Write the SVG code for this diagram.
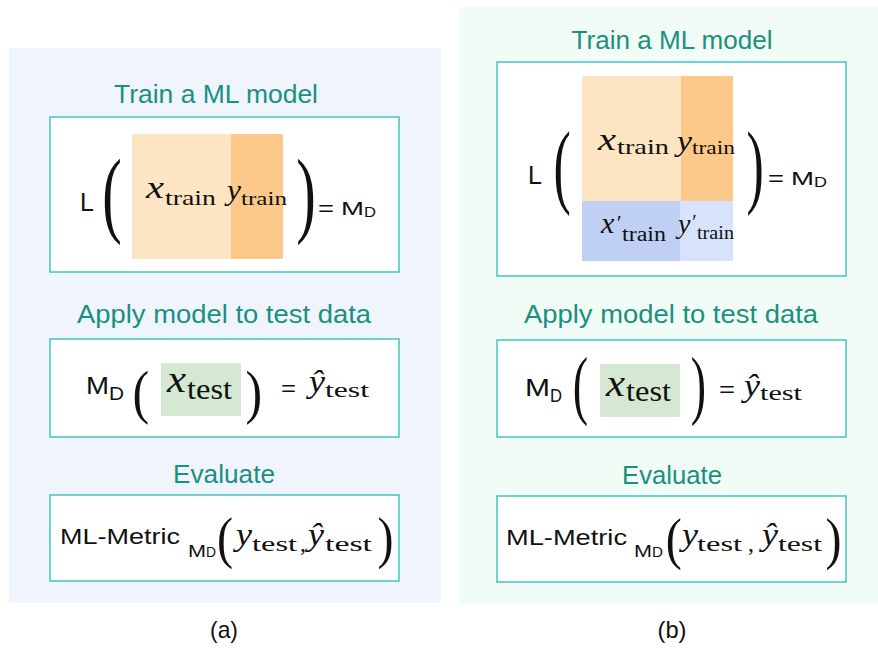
<svg xmlns="http://www.w3.org/2000/svg" width="878" height="648" viewBox="0 0 878 648">
<style>
.bgA{fill:#f0f4fd}
.bgB{fill:#f2fcf6}
.box{fill:#ffffff;stroke:#40c6bf;stroke-width:1.5}
.title{font-family:"Liberation Sans",Arial,sans-serif;font-size:26px;fill:#1a9080;text-anchor:middle}
.sans{font-family:"Liberation Sans",Arial,sans-serif;fill:#111}
.cap{font-family:"Liberation Sans",Arial,sans-serif;font-size:24px;fill:#111;text-anchor:middle}
.mi{font-family:"Liberation Serif","Times New Roman",serif;font-style:italic;fill:#111}
.mr{font-family:"Liberation Serif","Times New Roman",serif;fill:#111}
.parS{font-family:"Liberation Serif","Times New Roman",serif;fill:#111}
.o1{fill:#fde5c4}
.o2{fill:#fdc98a}
.b1{fill:#bfd0f4}
.b2{fill:#d7e3fd}
.g1{fill:#d5e8d4}
</style>

<g id="panel-a">
<rect class="bgA" x="9" y="48" width="432" height="555"/>
<text class="cap" x="224" y="638" textLength="28" lengthAdjust="spacingAndGlyphs">(a)</text>
</g>
<g id="panel-b">
<rect class="bgB" x="459" y="7" width="419" height="597"/>
<text class="cap" x="672" y="638" textLength="29" lengthAdjust="spacingAndGlyphs">(b)</text>
</g>

<g id="connectors"></g>

<!-- Panel A: Train -->
<g id="a-train">
<text class="title" x="216" y="103" textLength="204" lengthAdjust="spacingAndGlyphs">Train a ML model</text>
<rect class="box" x="50" y="117" width="349" height="155"/>
<rect class="o1" x="132" y="134" width="99" height="125"/>
<rect class="o2" x="231" y="134" width="52" height="125"/>
<text class="sans" x="80" y="211" font-size="25">L</text>
<text class="parS" font-size="58.6" transform="translate(102.2,225) scale(1,1.64)">(</text>
<text class="mi" x="146" y="198" font-size="32" textLength="18" lengthAdjust="spacingAndGlyphs">x</text>
<text class="mr" x="165" y="205" font-size="22" textLength="51" lengthAdjust="spacingAndGlyphs">train</text>
<text class="mi" x="227" y="200" font-size="30" textLength="14" lengthAdjust="spacingAndGlyphs">y</text>
<text class="mr" x="241" y="205" font-size="19" textLength="46" lengthAdjust="spacingAndGlyphs">train</text>
<text class="parS" font-size="58.6" transform="translate(296.3,225) scale(1,1.64)">)</text>
<text class="sans" x="318" y="216" font-size="22" textLength="16" lengthAdjust="spacingAndGlyphs">=</text>
<text class="sans" x="341" y="215" font-size="18" textLength="23" lengthAdjust="spacingAndGlyphs">M</text>
<text class="sans" x="364" y="217" font-size="14" textLength="12" lengthAdjust="spacingAndGlyphs">D</text>
</g>

<!-- Panel A: Apply -->
<g id="a-apply">
<text class="title" x="224" y="323" textLength="294" lengthAdjust="spacingAndGlyphs">Apply model to test data</text>
<rect class="box" x="50" y="339" width="349" height="98"/>
<text class="sans" x="86" y="394" font-size="24" textLength="23" lengthAdjust="spacingAndGlyphs">M</text>
<text class="sans" x="109" y="400" font-size="18" textLength="15" lengthAdjust="spacingAndGlyphs">D</text>
<text class="parS" font-size="50" transform="translate(132.6,411.6) scale(1,1.17)">(</text>
<rect class="g1" x="161" y="363" width="80" height="53"/>
<text class="mi" x="167" y="392" font-size="38" textLength="19" lengthAdjust="spacingAndGlyphs">x</text>
<text class="mr" x="187" y="399" font-size="30" textLength="45" lengthAdjust="spacingAndGlyphs">test</text>
<text class="parS" font-size="50" transform="translate(245.5,411.6) scale(1,1.17)">)</text>
<text class="sans" x="281" y="396" font-size="22" textLength="15" lengthAdjust="spacingAndGlyphs">=</text>
<text class="mi" x="309" y="392" font-size="32" textLength="16" lengthAdjust="spacingAndGlyphs">ŷ</text>
<text class="mr" x="325" y="397" font-size="22" textLength="44" lengthAdjust="spacingAndGlyphs">test</text>
</g>

<!-- Panel A: Evaluate -->
<g id="a-eval">
<text class="title" x="224" y="483" textLength="102" lengthAdjust="spacingAndGlyphs">Evaluate</text>
<rect class="box" x="50" y="495" width="349" height="86"/>
<text class="sans" x="60" y="544" font-size="22" textLength="120" lengthAdjust="spacingAndGlyphs">ML-Metric</text>
<text class="sans" x="188" y="557" font-size="16" textLength="18" lengthAdjust="spacingAndGlyphs">M</text>
<text class="sans" x="206" y="557" font-size="15" textLength="10" lengthAdjust="spacingAndGlyphs">D</text>
<text class="parS" font-size="56" transform="translate(217,557) scale(0.86,1)">(</text>
<text class="mi" x="236" y="545" font-size="32" textLength="16" lengthAdjust="spacingAndGlyphs">y</text>
<text class="mr" x="252" y="551" font-size="22" textLength="45" lengthAdjust="spacingAndGlyphs">test</text>
<text class="mr" x="300" y="551" font-size="24">,</text>
<text class="mi" x="308" y="545" font-size="32" textLength="16" lengthAdjust="spacingAndGlyphs">ŷ</text>
<text class="mr" x="325" y="551" font-size="22" textLength="47" lengthAdjust="spacingAndGlyphs">test</text>
<text class="parS" font-size="56" transform="translate(377.5,557) scale(0.86,1)">)</text>
</g>

<!-- Panel B: Train -->
<g id="b-train">
<text class="title" x="672" y="49" textLength="201" lengthAdjust="spacingAndGlyphs">Train a ML model</text>
<rect class="box" x="497" y="62" width="349" height="214"/>
<rect class="o1" x="582" y="76" width="99" height="125"/>
<rect class="o2" x="681" y="76" width="52" height="125"/>
<rect class="b1" x="582" y="201" width="98" height="60"/>
<rect class="b2" x="680" y="201" width="53" height="60"/>
<text class="sans" x="528" y="184" font-size="25">L</text>
<text class="parS" font-size="52" transform="translate(553.5,196.3) scale(1,1.8)">(</text>
<text class="mi" x="598" y="150" font-size="32" textLength="18" lengthAdjust="spacingAndGlyphs">x</text>
<text class="mr" x="617" y="154" font-size="22" textLength="52" lengthAdjust="spacingAndGlyphs">train</text>
<text class="mi" x="677" y="151" font-size="30" textLength="15" lengthAdjust="spacingAndGlyphs">y</text>
<text class="mr" x="692" y="154" font-size="19" textLength="43" lengthAdjust="spacingAndGlyphs">train</text>
<text class="mi" x="601" y="233" font-size="30">x</text>
<text class="mi" x="615.5" y="230" font-size="22">′</text>
<text class="mr" x="622" y="241" font-size="20" textLength="44" lengthAdjust="spacingAndGlyphs">train</text>
<text class="mi" x="678" y="233" font-size="28">y</text>
<text class="mi" x="691" y="229" font-size="20">′</text>
<text class="mr" x="697" y="239" font-size="18" textLength="37" lengthAdjust="spacingAndGlyphs">train</text>
<text class="parS" font-size="52" transform="translate(746.5,196.3) scale(1,1.8)">)</text>
<text class="sans" x="768" y="186" font-size="22" textLength="16" lengthAdjust="spacingAndGlyphs">=</text>
<text class="sans" x="791" y="185" font-size="18" textLength="23" lengthAdjust="spacingAndGlyphs">M</text>
<text class="sans" x="814" y="187" font-size="14" textLength="13" lengthAdjust="spacingAndGlyphs">D</text>
</g>

<!-- Panel B: Apply -->
<g id="b-apply">
<text class="title" x="671" y="323" textLength="294" lengthAdjust="spacingAndGlyphs">Apply model to test data</text>
<rect class="box" x="497" y="340" width="349" height="97"/>
<text class="sans" x="525" y="396" font-size="24" textLength="25" lengthAdjust="spacingAndGlyphs">M</text>
<text class="sans" x="550" y="402" font-size="18" textLength="12" lengthAdjust="spacingAndGlyphs">D</text>
<text class="parS" font-size="46" transform="translate(572.8,409.6) scale(1,1.66)">(</text>
<rect class="g1" x="600" y="364" width="80" height="53"/>
<text class="mi" x="606" y="396" font-size="38" textLength="19" lengthAdjust="spacingAndGlyphs">x</text>
<text class="mr" x="626" y="401" font-size="30" textLength="45" lengthAdjust="spacingAndGlyphs">test</text>
<text class="parS" font-size="46" transform="translate(690.7,409.6) scale(1,1.66)">)</text>
<text class="sans" x="719" y="397" font-size="22" textLength="16" lengthAdjust="spacingAndGlyphs">=</text>
<text class="mi" x="744" y="396" font-size="32" textLength="16" lengthAdjust="spacingAndGlyphs">ŷ</text>
<text class="mr" x="760" y="400" font-size="22" textLength="42" lengthAdjust="spacingAndGlyphs">test</text>
</g>

<!-- Panel B: Evaluate -->
<g id="b-eval">
<text class="title" x="672" y="484" textLength="100" lengthAdjust="spacingAndGlyphs">Evaluate</text>
<rect class="box" x="497" y="496" width="349" height="86"/>
<text class="sans" x="506" y="545" font-size="22" textLength="121" lengthAdjust="spacingAndGlyphs">ML-Metric</text>
<text class="sans" x="634" y="557" font-size="16" textLength="18" lengthAdjust="spacingAndGlyphs">M</text>
<text class="sans" x="652" y="557" font-size="15" textLength="11" lengthAdjust="spacingAndGlyphs">D</text>
<text class="parS" font-size="56" transform="translate(665.7,558) scale(0.86,1)">(</text>
<text class="mi" x="682" y="545" font-size="32" textLength="16" lengthAdjust="spacingAndGlyphs">y</text>
<text class="mr" x="697" y="551" font-size="22" textLength="45" lengthAdjust="spacingAndGlyphs">test</text>
<text class="mr" x="748" y="551" font-size="24">,</text>
<text class="mi" x="762" y="545" font-size="32" textLength="16" lengthAdjust="spacingAndGlyphs">ŷ</text>
<text class="mr" x="778" y="551" font-size="22" textLength="44" lengthAdjust="spacingAndGlyphs">test</text>
<text class="parS" font-size="56" transform="translate(825.6,558) scale(0.86,1)">)</text>
</g>
</svg>
